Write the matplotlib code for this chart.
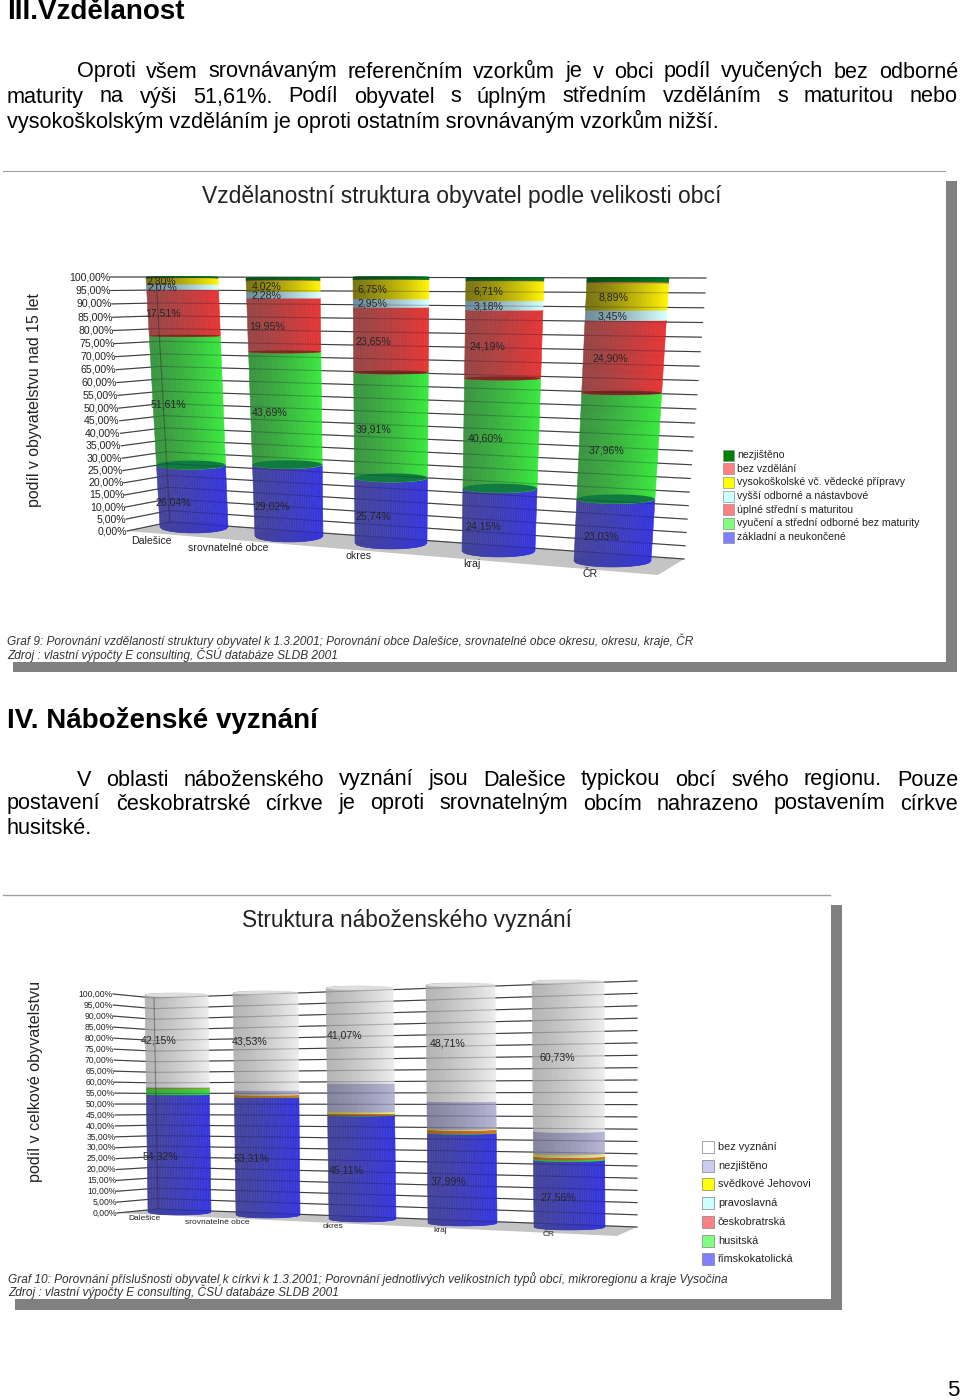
import numpy as np
import matplotlib
matplotlib.use('Agg')
from matplotlib import pyplot as plt
from matplotlib.collections import PolyCollection
from matplotlib.patches import Polygon, Rectangle
from matplotlib.transforms import Transform

plt.rcParams['font.family'] = ['Liberation Sans', 'DejaVu Sans']

# chart 1 data, bottom to top of the stack
edu_places = ['Dalešice', 'srovnatelné obce', 'okres', 'kraj', 'ČR']
edu_zakladni = [26.04, 29.02, 25.74, 24.15, 23.03]
edu_vyuceni = [51.61, 43.69, 39.91, 40.60, 37.96]
edu_uplne = [17.51, 19.95, 23.65, 24.19, 24.90]
edu_vyssi = [2.07, 2.28, 2.95, 3.18, 3.45]
edu_vysoko = [2.30, 4.02, 6.75, 6.71, 8.89]
edu_bez = [0.07, 0.20, 0.10, 0.17, 0.37]
edu_nezjisteno = [0.40, 0.84, 0.90, 1.00, 1.40]
edu_legend = ['nezjištěno', 'bez vzdělání', 'vysokoškolské vč. vědecké přípravy',
              'vyšší odborné a nástavbové', 'úplné střední s maturitou',
              'vyučení a střední odborné bez maturity', 'základní a neukončené']

# chart 2 data, bottom to top of the stack
rel_places = ['Dalešice', 'srovnatelné obce', 'okres', 'kraj', 'ČR']
rel_rimsko = [54.32, 53.31, 45.11, 37.99, 27.56]
rel_husitska = [3.00, 0.10, 0.30, 0.20, 0.60]
rel_ceskobr = [0.25, 1.00, 0.70, 1.40, 1.00]
rel_pravosl = [0.03, 0.05, 0.10, 0.10, 0.30]
rel_svedci = [0.05, 0.24, 0.60, 0.30, 0.80]
rel_nezjisteno = [0.20, 1.77, 12.12, 11.30, 9.01]
rel_bez = [42.15, 43.53, 41.07, 48.71, 60.73]
rel_legend = ['bez vyznání', 'nezjištěno', 'svědkové Jehovovi', 'pravoslavná',
              'českobratrská', 'husitská', 'římskokatolická']

axis_ticks = list(range(0, 101, 5))

# (dark side, bright side) of each cylinder band
blue = ('#43439a', '#3535e0')
green = ('#3a9440', '#38e83c')
red = ('#984444', '#e63434')
yellow = ('#7a7410', '#fff200')
cyan = ('#6e8c9c', '#d4ffff')
dkgreen = ('#004f10', '#007a20')
salmon = ('#a05040', '#e08040')
lavender = ('#84849e', '#b4b4d4')
grey = ('#b4b4b4', '#ececec')
orange = ('#a05a20', '#d87020')
hus = ('#30a838', '#38d840')
sj = ('#b0a020', '#f4e870')
pale = ('#9ab0b0', '#d4ffff')


class Cylinder(Transform):
    # (u, value) -> page pixels; u runs -1..1 across the column
    input_dims = 2
    output_dims = 2
    has_inverse = False

    def __init__(self, base, top, c, bulge, side=1):
        super().__init__()
        self.base, self.top, self.c, self.bulge, self.side = base, top, c, bulge, side

    def frac(self, v):
        t = np.asarray(v) / 100.0
        return t / (t + self.c * (1 - t))

    def transform_non_affine(self, values):
        values = np.asarray(values, dtype=float)
        u, v = values[:, 0], values[:, 1]
        f = self.frac(v)
        x0, x1, y0 = self.base
        a0, a1, y1 = self.top
        left = x0 + (a0 - x0) * f
        right = x1 + (a1 - x1) * f
        y = y0 + (y1 - y0) * f
        b = self.bulge[0] + (self.bulge[1] - self.bulge[0]) * f
        y = y + self.side * b * np.sqrt(np.clip(1 - u ** 2, 0, 1))
        return np.column_stack([(left + right) / 2 + u * (right - left) / 2, y])


def shade(pair, n):
    a = np.array(matplotlib.colors.to_rgb(pair[0]))
    b = np.array(matplotlib.colors.to_rgb(pair[1]))
    t = np.linspace(0, 1, n)[:, None] ** 1.3
    return a + (b - a) * t


def draw_chart(ax, cols, layout):
    c = layout['c']
    # floor and fanned gridlines
    ax.add_patch(Polygon(layout['floor'], color='#c4c4c4', zorder=1, lw=0))
    for tick in axis_ticks:
        t = tick / 100.0
        f = t / (t + c * (1 - t))
        pts = np.array(layout['grid0']) + (np.array(layout['grid1']) - np.array(layout['grid0'])) * f
        ax.plot(pts[:, 0], pts[:, 1], color='#4a4a4a', lw=0.8, zorder=2)
        # the lines show faintly through the columns
        ax.plot(pts[:, 0], pts[:, 1], color='#101030', lw=0.8, alpha=0.22, zorder=6)
        ax.text(pts[0, 0], pts[0, 1], '%d,00%%' % tick, ha='right', va='center',
                fontsize=layout['tick_size'], color='#222222', zorder=8)
    # back corner post
    k0, k1 = layout['grid0'][1], layout['grid1'][1]
    ax.plot([k0[0], k1[0]], [k0[1], k1[1]], color='#222222', lw=0.8, alpha=0.4, zorder=6)

    for i, (base, top) in enumerate(layout['columns']):
        tr = Cylinder(base, top, c, layout['bulge']) + ax.transData
        back = Cylinder(base, top, c, layout['bulge'], side=-1)
        front = Cylinder(base, top, c, layout['bulge'])
        bottom = 0.0
        us = np.linspace(-1, 1, 41)
        for vals, pair, labelled, cap in cols:
            v = vals[i]
            strips = [[(us[k], bottom), (us[k + 1], bottom), (us[k + 1], bottom + v), (us[k], bottom + v)]
                      for k in range(len(us) - 1)]
            ax.add_collection(PolyCollection(strips, facecolors=shade(pair, len(us) - 1), edgecolors='face',
                                             linewidths=0.4, transform=tr, zorder=4), autolim=False)
            if labelled:
                mid = bottom + v / 2
                u_lab = layout['label_u'][i]
                f = front.frac(mid)
                x, y = Cylinder(base, top, c, (0, 0)).transform([[u_lab, mid]])[0]
                y += layout['label_dy'][0] + (layout['label_dy'][1] - layout['label_dy'][0]) * f
                ax.text(x, y, ('%.2f%%' % v).replace('.', ','), ha='center', va='center',
                        fontsize=layout['value_size'], color='#262626', zorder=9)
            top_v = bottom + v
            # dark cap where the next band sits on this one
            if cap is not None:
                th = np.linspace(-1, 1, 41)
                pts = np.vstack([front.transform(np.column_stack([th, np.full(41, top_v)])),
                                 back.transform(np.column_stack([th, np.full(41, top_v)]))[::-1]])
                ax.add_patch(Polygon(pts, color=cap, lw=0, zorder=5))
            bottom = top_v
        # dark base and closed top of the cylinder
        th = np.linspace(-1, 1, 41)
        if layout['base_cap']:
            pts = np.vstack([front.transform(np.column_stack([th, np.zeros(41)])),
                             back.transform(np.column_stack([th, np.zeros(41)]))[::-1]])
            ax.add_patch(Polygon(pts, color=layout['base_cap'], lw=0, zorder=3.9))
        if layout['top_cap']:
            pts = np.vstack([front.transform(np.column_stack([th, np.full(41, 100.0)])),
                             back.transform(np.column_stack([th, np.full(41, 100.0)]))[::-1]])
            ax.add_patch(Polygon(pts, color=layout['top_cap'], lw=0, zorder=5))

    for name, pos in zip(layout['places'], layout['place_xy']):
        ax.text(pos[0], pos[1], name, ha='center', va='center',
                fontsize=layout['place_size'], color='#222222', zorder=8)


def justify(ax, line, x0, x1, y, size):
    words = line.split()
    rend = ax.figure.canvas.get_renderer()
    items = [ax.text(0, y, w, fontsize=size, va='center', color='black') for w in words]
    widths = [t.get_window_extent(rend).width for t in items]
    gap = (x1 - x0 - sum(widths)) / (len(words) - 1)
    x = x0
    for t, w in zip(items, widths):
        t.set_x(x)
        x += w + gap


fig = plt.figure(figsize=(9.6, 14.0), dpi=100)
ax = fig.add_axes([0, 0, 1, 1])
ax.set_xlim(0, 960)
ax.set_ylim(1400, 0)
ax.axis('off')

body = 15.6
ax.text(7, 12, 'III.Vzdělanost', fontsize=20, fontweight='bold', va='center')
justify(ax, 'Oproti všem srovnávaným referenčním vzorkům je v obci podíl vyučených bez odborné', 77, 958, 72, body)
justify(ax, 'maturity na výši 51,61%. Podíl obyvatel s úplným středním vzděláním s maturitou nebo', 7, 958, 97, body)
ax.text(7, 121, 'vysokoškolským vzděláním je oproti ostatním srovnávaným vzorkům nižší.', fontsize=body, va='center')
ax.text(7, 720, 'IV. Náboženské vyznání', fontsize=20, fontweight='bold', va='center')
justify(ax, 'V oblasti náboženského vyznání jsou Dalešice typickou obcí svého regionu. Pouze', 77, 958, 780, body)
justify(ax, 'postavení českobratrské církve je oproti srovnatelným obcím nahrazeno postavením církve', 7, 958, 804, body)
ax.text(7, 829, 'husitské.', fontsize=body, va='center')
ax.text(953, 1390, '5', fontsize=16, ha='center', va='center')

# chart frames
ax.plot([3, 945], [171, 171], color='#a0a0a0', lw=0.8)
ax.add_patch(Rectangle((946, 181), 11, 491, color='#808080', lw=0))
ax.add_patch(Rectangle((13, 662), 944, 10, color='#808080', lw=0))
ax.plot([3, 830], [895, 895], color='#a0a0a0', lw=1.0)
ax.add_patch(Rectangle((831, 905), 11, 405, color='#808080', lw=0))
ax.add_patch(Rectangle((15, 1299), 827, 11, color='#808080', lw=0))

ax.text(461.5, 197, 'Vzdělanostní struktura obyvatel podle velikosti obcí', fontsize=16.5, ha='center', va='center', color='#222222')
ax.text(406.5, 920, 'Struktura náboženského vyznání', fontsize=16.3, ha='center', va='center', color='#222222')
ax.text(35, 400, 'podíl v obyvatelstvu nad 15 let', rotation=90, fontsize=11.4, ha='center', va='center', color='#222222')
ax.text(36, 1081, 'podíl v celkové obyvatelstvu', rotation=90, fontsize=11.6, ha='center', va='center', color='#222222')

caption = dict(fontsize=8.6, style='italic', va='center', color='#333333')
ax.text(7, 641, 'Graf 9: Porovnání vzdělaností struktury obyvatel k 1.3.2001; Porovnání obce Dalešice, srovnatelné obce okresu, okresu, kraje, ČR', **caption)
ax.text(7, 655, 'Zdroj : vlastní výpočty E consulting, ČSÚ databáze SLDB 2001', **caption)
ax.text(8, 1279, 'Graf 10: Porovnání příslušnosti obyvatel k církvi k 1.3.2001; Porovnání jednotlivých velikostních typů obcí, mikroregionu a kraje Vysočina', **caption)
ax.text(8, 1292, 'Zdroj : vlastní výpočty E consulting, ČSÚ databáze SLDB 2001', **caption)

edu_layout = dict(
    c=1.067, bulge=(6, -0.5), tick_size=7.6, value_size=7.6, place_size=7.6,
    floor=[(127, 531), (170, 522), (684, 559), (658, 575)],
    grid0=[(127, 531), (170, 522), (684, 559)],
    grid1=[(110, 277), (156, 277), (706, 278)],
    columns=[((160, 228, 527), (146, 218, 277)), ((255, 323, 536), (246, 320, 278)),
             ((355, 427, 543), (353, 429, 277)), ((462, 535, 551), (466, 544, 278)),
             ((574, 651, 561), (587, 669, 278))],
    label_u=[-0.57, -0.46, -0.48, -0.42, -0.32], label_dy=(7, 0),
    places=edu_places, place_xy=[(151, 541), (228, 548), (359, 556), (472, 564), (590, 574)],
    base_cap='#36369a', top_cap=None)
edu_cols = [(edu_zakladni, blue, True, '#107a40'), (edu_vyuceni, green, True, '#7a2a20'),
            (edu_uplne, red, True, None), (edu_vyssi, cyan, True, None),
            (edu_vysoko, yellow, True, None), (edu_bez, salmon, False, None),
            (edu_nezjisteno, dkgreen, False, None)]
draw_chart(ax, edu_cols, edu_layout)

rel_layout = dict(
    c=1.01, bulge=(3, -2), tick_size=6.2, value_size=7.6, place_size=6.0,
    floor=[(117, 1213), (158, 1209), (637, 1227), (617, 1236)],
    grid0=[(117, 1213), (158, 1209), (637, 1227)],
    grid1=[(113, 994), (154, 998), (637, 981)],
    columns=[((148, 211, 1212), (145, 208, 995)), ((236, 300, 1215), (233, 298, 993)),
             ((329, 396, 1219), (326, 393, 988)), ((428, 497, 1223), (426, 495, 985)),
             ((534, 605, 1227), (532, 604, 982))],
    label_u=[-0.58, -0.5, -0.47, -0.4, -0.32], label_dy=(4.3, -1.7),
    places=rel_places, place_xy=[(144, 1219), (217, 1223), (333, 1227), (440, 1231), (549, 1235)],
    base_cap='#2c2ca8', top_cap='#dedede')
rel_cols = [(rel_rimsko, blue, True, None), (rel_husitska, hus, False, None),
            (rel_ceskobr, orange, False, None), (rel_pravosl, pale, False, None),
            (rel_svedci, sj, False, None), (rel_nezjisteno, lavender, False, None),
            (rel_bez, grey, True, None)]
draw_chart(ax, rel_cols, rel_layout)

# legends
edu_swatches = ['#008000', '#ff8080', '#ffff00', '#ccffff', '#ff8080', '#80ff80', '#8080ff']
rel_swatches = ['#ffffff', '#ccccee', '#ffff00', '#ccffff', '#ff8080', '#80ff80', '#7f7fff']
for i, (name, col) in enumerate(zip(edu_legend, edu_swatches)):
    y = 455 + i * 13.7
    ax.add_patch(Rectangle((723, y - 5.5), 11, 11, facecolor=col, edgecolor='#909090', lw=0.5))
    ax.text(737, y, name, fontsize=7.55, va='center', color='#222222')
for i, (name, col) in enumerate(zip(rel_legend, rel_swatches)):
    y = 1147 + i * 18.7
    ax.add_patch(Rectangle((702, y - 6), 12, 12, facecolor=col, edgecolor='#808080', lw=0.5))
    ax.text(718, y, name, fontsize=7.8, va='center', color='#222222')

fig.savefig('out.png', dpi=100)
